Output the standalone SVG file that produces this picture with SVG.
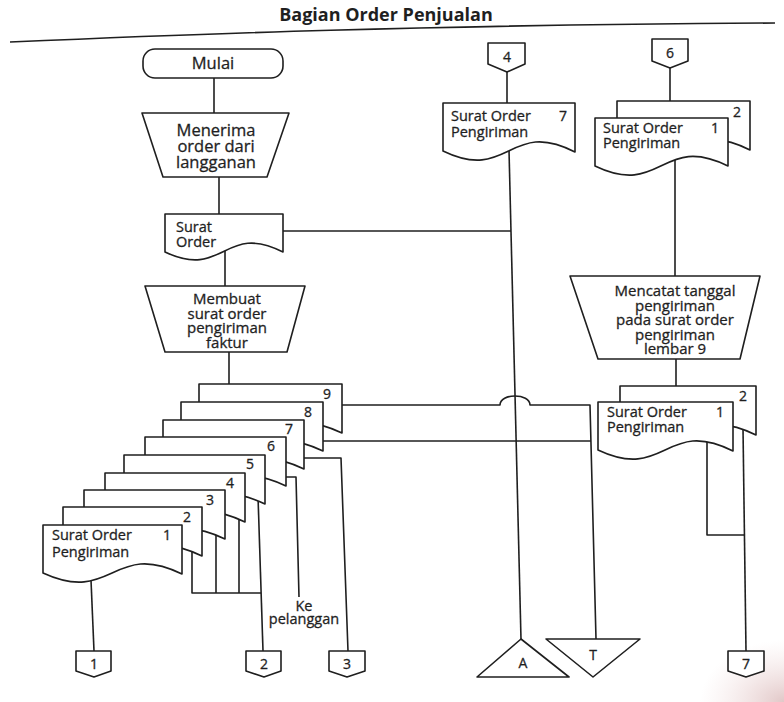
<svg xmlns="http://www.w3.org/2000/svg" width="784" height="702" viewBox="0 0 784 702">
  <defs>
    <style>
      .ln { fill: none; stroke: #1f1f1f; stroke-width: 1.6; stroke-linejoin: round; }
      .sh { fill: #ffffff; stroke: #1f1f1f; stroke-width: 1.6; stroke-linejoin: round; }
      .tx { font-family: "Open Sans", "Liberation Sans", sans-serif; fill: #1f1f1f; stroke: #1f1f1f; stroke-width: 0.3; }
      .pr { font-size: 16.5px; text-anchor: middle; }
      .pr2 { font-size: 15px; text-anchor: middle; }
      .dc { font-size: 14.5px; }
      .nm { font-size: 14px; text-anchor: middle; }
      .ttl { font-size: 18px; font-weight: bold; text-anchor: middle; stroke-width: 0; }
    </style>
    <radialGradient id="stain" cx="1" cy="1" r="1">
      <stop offset="0" stop-color="#c99a9a" stop-opacity="0.55"/>
      <stop offset="1" stop-color="#e8c8c8" stop-opacity="0"/>
    </radialGradient>
  </defs>

  <rect x="0" y="0" width="784" height="702" fill="#ffffff"/>
  <rect x="700" y="640" width="84" height="62" fill="url(#stain)"/>

  <!-- swimlane heading -->
  <g id="heading">
    <text class="tx ttl" x="386" y="21">Bagian Order Penjualan</text>
    <path class="ln" d="M10,42 C200,34 420,25 775,23"/>
  </g>

  <!-- connectors (drawn first so shapes sit on top) -->
  <g id="connectors">
    <path class="ln" d="M214,78 V113"/>
    <path class="ln" d="M219,177 V214"/>
    <path class="ln" d="M225,250 V286"/>
    <path class="ln" d="M229,352 V384"/>
    <path class="ln" d="M283,231 H511"/>
    <!-- sheet 7 from connector 4 to archive A -->
    <path class="ln" d="M507,72 V103"/>
    <path class="ln" d="M509,150 L521,639"/>
    <!-- sheet 9 with line jump, sheet 8, both to file T -->
    <path class="ln" d="M342,405 H500 C500,393 530,393 530,405 H590 L596,639"/>
    <path class="ln" d="M323,441 H591"/>
    <!-- sheet 7 to connector 3 -->
    <path class="ln" d="M304,458 H341 L348,651"/>
    <!-- sheet 6 to customer -->
    <path class="ln" d="M286,477 H296 L299,597"/>
    <!-- sheets 2-5 to connector 2 -->
    <path class="ln" d="M258,496 L263,651"/>
    <path class="ln" d="M239,515 V593"/>
    <path class="ln" d="M216,530 V593"/>
    <path class="ln" d="M192,545 V593 H261"/>
    <!-- sheet 1 to connector 1 -->
    <path class="ln" d="M91,580 L94,651"/>
    <!-- right column -->
    <path class="ln" d="M670,68 V101"/>
    <path class="ln" d="M675,160 V276"/>
    <path class="ln" d="M676,358 V386"/>
    <path class="ln" d="M707,440 V535 H744"/>
    <path class="ln" d="M743,428 L746,651"/>
  </g>

  <!-- start -->
  <g id="mulai">
    <rect class="sh" x="143" y="49" width="140" height="29" rx="12"/>
    <text class="tx pr" x="213" y="69">Mulai</text>
  </g>

  <g id="menerima-order">
    <path class="sh" d="M142,113 H289 L267,177 H163 Z"/>
    <text class="tx pr" x="216" y="136">Menerima</text>
    <text class="tx pr" x="216" y="152">order dari</text>
    <text class="tx pr" x="216" y="168">langganan</text>
  </g>

  <g id="surat-order">
    <path class="sh" d="M165,214 H283 V252 C224,222 224,280 165,252 Z"/>
    <text class="tx dc" x="176" y="232">Surat</text>
    <text class="tx dc" x="176" y="247">Order</text>
  </g>

  <g id="membuat-sop">
    <path class="sh" d="M145,286 H305 L287,352 H165 Z"/>
    <text class="tx pr2" x="227" y="304">Membuat</text>
    <text class="tx pr2" x="227" y="318.5">surat order</text>
    <text class="tx pr2" x="227" y="333">pengiriman</text>
    <text class="tx pr2" x="227" y="347.5">faktur</text>
  </g>

  <!-- nine-part shipping order set, back to front -->
  <g id="sop-set">
    <path class="sh" d="M199,384 H342 V433 C270.5,399 270.5,464 199,432 Z"/>
    <text class="tx nm" x="327" y="399">9</text>
    <path class="sh" d="M181,402 H323 V451 C252,417 252,482 181,450 Z"/>
    <text class="tx nm" x="308" y="417">8</text>
    <path class="sh" d="M163,420 H304 V469 C233.5,435 233.5,500 163,468 Z"/>
    <text class="tx nm" x="289" y="434">7</text>
    <path class="sh" d="M145,437 H286 V486 C215.5,452 215.5,517 145,485 Z"/>
    <text class="tx nm" x="271" y="451">6</text>
    <path class="sh" d="M124,455 H265 V504 C194.5,470 194.5,535 124,503 Z"/>
    <text class="tx nm" x="250" y="469">5</text>
    <path class="sh" d="M105,473 H245 V522 C175,488 175,553 105,521 Z"/>
    <text class="tx nm" x="230" y="488">4</text>
    <path class="sh" d="M84,490 H225 V539 C154.5,505 154.5,570 84,538 Z"/>
    <text class="tx nm" x="210" y="505">3</text>
    <path class="sh" d="M63,507 H202 V556 C132.5,522 132.5,587 63,555 Z"/>
    <text class="tx nm" x="187" y="522">2</text>
    <path class="sh" d="M43,525 H182 V574 C112.5,540 112.5,605 43,573 Z"/>
    <text class="tx nm" x="167" y="540">1</text>
    <text class="tx dc" x="52" y="540">Surat Order</text>
    <text class="tx dc" x="52" y="557">Pengiriman</text>
  </g>

  <g id="ke-pelanggan">
    <text class="tx dc" x="304" y="611" text-anchor="middle">Ke</text>
    <text class="tx dc" x="304" y="624" text-anchor="middle">pelanggan</text>
  </g>

  <!-- middle column -->
  <g id="conn-4">
    <path class="sh" d="M488,43 H525 V64 L507,72 L488,64 Z"/>
    <text class="tx nm" x="507" y="62">4</text>
  </g>

  <g id="sop-7">
    <path class="sh" d="M443,103 H575 V152 C509,118 509,183 443,151 Z"/>
    <text class="tx dc" x="451" y="121">Surat Order</text>
    <text class="tx nm" x="563" y="121">7</text>
    <text class="tx dc" x="451" y="137">Pengiriman</text>
  </g>

  <g id="arsip-a">
    <path class="sh" d="M521,639 L569,677 L477,677 Z"/>
    <text class="tx nm" x="523" y="668">A</text>
  </g>

  <g id="arsip-t">
    <path class="sh" d="M546,639 H640 L593,677 Z"/>
    <text class="tx nm" x="593" y="660">T</text>
  </g>

  <!-- right column -->
  <g id="conn-6">
    <path class="sh" d="M652,39 H688 V61 L670,68 L652,61 Z"/>
    <text class="tx nm" x="670" y="58">6</text>
  </g>

  <g id="sop-1-2-in">
    <path class="sh" d="M617,101 H750 V150 C683.5,116 683.5,181 617,149 Z"/>
    <text class="tx nm" x="737" y="117">2</text>
    <path class="sh" d="M595,118 H728 V166 C661.5,133 661.5,198 595,166 Z"/>
    <text class="tx dc" x="603" y="133">Surat Order</text>
    <text class="tx nm" x="715" y="133">1</text>
    <text class="tx dc" x="603" y="148">Pengiriman</text>
  </g>

  <g id="mencatat-tanggal">
    <path class="sh" d="M570,276 H760 L740,359 H598 Z"/>
    <text class="tx pr2" x="675" y="296">Mencatat tanggal</text>
    <text class="tx pr2" x="675" y="310.5">pengiriman</text>
    <text class="tx pr2" x="675" y="325">pada surat order</text>
    <text class="tx pr2" x="675" y="339.5">pengiriman</text>
    <text class="tx pr2" x="675" y="354">lembar 9</text>
  </g>

  <g id="sop-1-2-out">
    <path class="sh" d="M620,386 H756 V435 C688,401 688,466 620,434 Z"/>
    <text class="tx nm" x="743" y="401">2</text>
    <path class="sh" d="M598,402 H733 V451 C665.5,417 665.5,482 598,450 Z"/>
    <text class="tx dc" x="607" y="417">Surat Order</text>
    <text class="tx nm" x="720" y="417">1</text>
    <text class="tx dc" x="607" y="432">Pengiriman</text>
  </g>

  <!-- off-page connectors along the bottom -->
  <g id="conn-1">
    <path class="sh" d="M76,651 H111 V671 L94,677 L76,671 Z"/>
    <text class="tx nm" x="94" y="669">1</text>
  </g>
  <g id="conn-2">
    <path class="sh" d="M246,651 H281 V671 L264,677 L246,671 Z"/>
    <text class="tx nm" x="264" y="669">2</text>
  </g>
  <g id="conn-3">
    <path class="sh" d="M329,651 H365 V671 L347,677 L329,671 Z"/>
    <text class="tx nm" x="347" y="669">3</text>
  </g>
  <g id="conn-7">
    <path class="sh" d="M728,651 H764 V671 L746,677 L728,671 Z"/>
    <text class="tx nm" x="746" y="669">7</text>
  </g>
</svg>
